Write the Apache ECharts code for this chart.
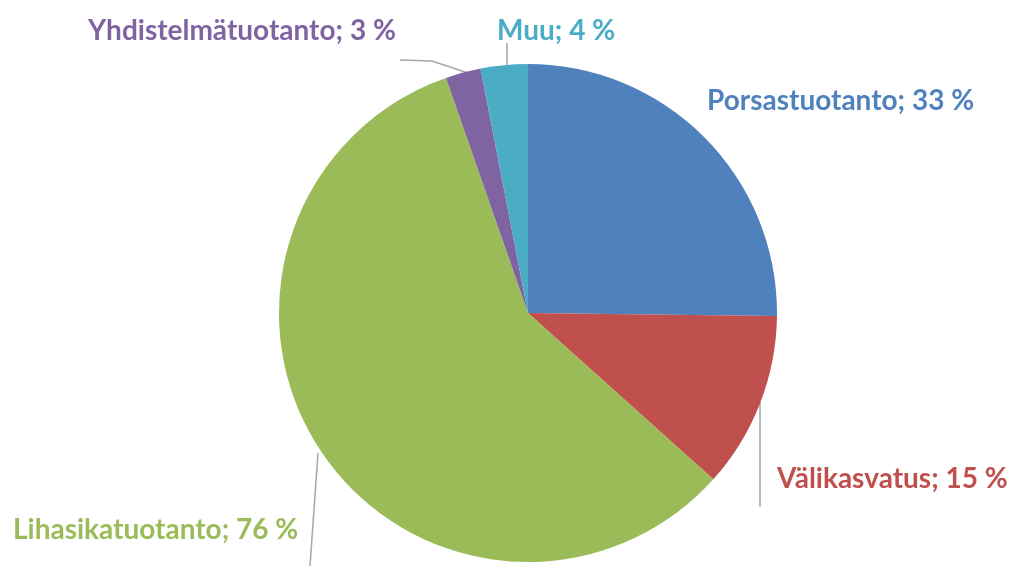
<!DOCTYPE html>
<html>
<head>
<meta charset="utf-8">
<script src="https://cdn.jsdelivr.net/npm/echarts@6/dist/echarts.min.js"></script>
<style>
    html, body { margin: 0; padding: 0; background: #fff; }
    #chart { width: 1015px; height: 566px; }
</style>
</head>
<body>
<div id="chart"></div>
<script>
    // sikatilojen tuotantosuunnat
    var categories = ['Porsastuotanto', 'Välikasvatus', 'Lihasikatuotanto', 'Yhdistelmätuotanto', 'Muu'];
    var values = [33, 15, 76, 3, 4];
    var colors = ['#4f81bd', '#c0504d', '#9bbb59', '#8064a2', '#4bacc6'];

    // label places (x, y = left / middle of text) and leader lines
    var labelPlace = [
        { x: 707, y: 101, line: null },
        { x: 777, y: 479, line: [[760, 402], [760, 507]] },
        { x: 13, y: 530, line: [[318, 453], [310, 566]] },
        { x: 88, y: 31, line: [[468, 73], [432, 61], [400, 60]] },
        { x: 497, y: 31, line: [[507, 66], [507, 43]] }
    ];

    var chart = echarts.init(document.getElementById('chart'));

    var option = {
        backgroundColor: '#fff',
        animation: false,
        series: [{
            type: 'pie',
            center: [528, 313],
            radius: 249,
            startAngle: 90,
            clockwise: true,
            data: categories.map(function (name, i) {
                return {
                    name: name,
                    value: values[i],
                    itemStyle: { color: colors[i] },
                    label: { color: colors[i] },
                    labelLine: { show: labelPlace[i].line !== null }
                };
            }),
            label: {
                show: true,
                position: 'outside',
                alignTo: 'none',
                overflow: 'none',
                formatter: '{b}; {c} %',
                fontFamily: 'Lato',
                fontWeight: 'bold',
                fontSize: 28
            },
            labelLine: {
                lineStyle: { color: '#a6a6a6', width: 1.5 }
            },
            labelLayout: function (params) {
                var p = labelPlace[params.dataIndex];
                var out = { x: p.x, y: p.y, align: 'left', verticalAlign: 'middle' };
                if (p.line) {
                    out.labelLinePoints = p.line;
                }
                return out;
            }
        }]
    };

    chart.setOption(option);
</script>
</body>
</html>
